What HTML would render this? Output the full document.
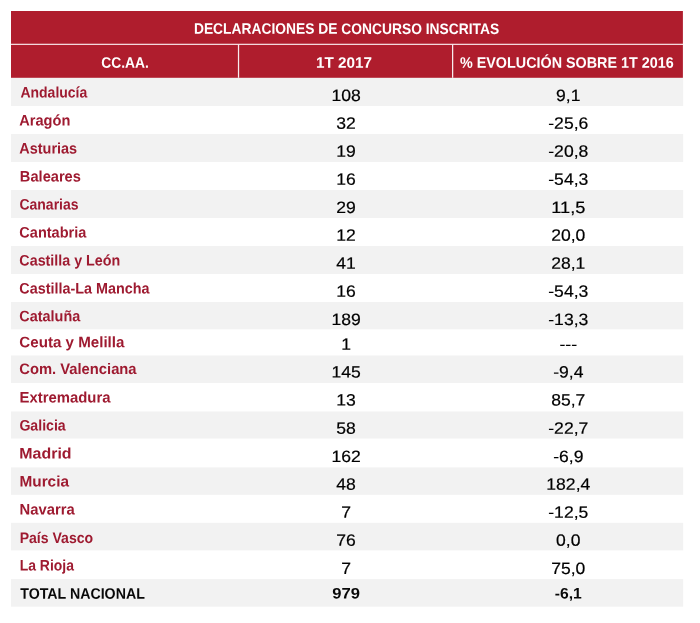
<!DOCTYPE html>
<html lang="es">
<head>
<meta charset="utf-8">
<title>Declaraciones de concurso inscritas</title>
<style>
html,body{margin:0;padding:0;background:#ffffff;}
body{width:700px;height:623px;overflow:hidden;}
svg{display:block;font-family:"Liberation Sans",sans-serif;text-rendering:geometricPrecision;}
text{white-space:pre;}
</style>
</head>
<body>
<svg width="700" height="623" viewBox="0 0 700 623">
<rect x="0" y="0" width="700" height="623" fill="#ffffff"/>
<rect x="11.0" y="11" width="671.9" height="66.8" fill="#AF1D2D"/>
<rect x="11.0" y="43.75" width="672.2" height="1.15" fill="#FBEEF0"/>
<rect x="237.9" y="44.3" width="1.25" height="33.5" fill="#F8ECEE"/>
<rect x="452.0" y="44.3" width="1.25" height="33.5" fill="#F8ECEE"/>
<rect x="11.0" y="78" width="672.2" height="28.0" fill="#F2F2F2"/>
<rect x="11.0" y="134" width="672.2" height="28.0" fill="#F2F2F2"/>
<rect x="11.0" y="190" width="672.2" height="28.0" fill="#F2F2F2"/>
<rect x="11.0" y="246" width="672.2" height="28.0" fill="#F2F2F2"/>
<rect x="11.0" y="302" width="672.2" height="27.3" fill="#F2F2F2"/>
<rect x="11.0" y="355.5" width="672.2" height="27.5" fill="#F2F2F2"/>
<rect x="11.0" y="411.5" width="672.2" height="27.0" fill="#F2F2F2"/>
<rect x="11.0" y="467.4" width="672.2" height="27.4" fill="#F2F2F2"/>
<rect x="11.0" y="522.8" width="672.2" height="27.6" fill="#F2F2F2"/>
<rect x="11.0" y="579.1" width="672.2" height="27.6" fill="#F2F2F2"/>
<text transform="matrix(0.9096 0.0005 0 1 193.93 33.80)" font-size="15.2" font-weight="bold" fill="#ffffff">DECLARACIONES DE CONCURSO INSCRITAS</text>
<text transform="matrix(0.9124 0.0005 0 1 101.14 67.70)" font-size="15.2" font-weight="bold" fill="#ffffff">CC.AA.</text>
<text transform="matrix(1.0051 0.0005 0 1 315.98 67.70)" font-size="15.2" font-weight="bold" fill="#ffffff">1T 2017</text>
<text transform="matrix(0.9448 0.0005 0 1 459.98 67.70)" font-size="15.2" font-weight="bold" fill="#ffffff">% EVOLUCIÓN SOBRE 1T 2016</text>
<text transform="matrix(0.9207 0.0005 0 1 20.43 97.50)" font-size="15.2" font-weight="bold" fill="#9E1A30">Andalucía</text>
<text transform="matrix(0.9608 0.0005 0 1 19.28 125.50)" font-size="15.2" font-weight="bold" fill="#9E1A30">Aragón</text>
<text transform="matrix(0.9521 0.0005 0 1 19.26 153.50)" font-size="15.2" font-weight="bold" fill="#9E1A30">Asturias</text>
<text transform="matrix(0.9639 0.0005 0 1 19.85 181.50)" font-size="15.2" font-weight="bold" fill="#9E1A30">Baleares</text>
<text transform="matrix(0.9219 0.0005 0 1 19.40 209.50)" font-size="15.2" font-weight="bold" fill="#9E1A30">Canarias</text>
<text transform="matrix(0.9563 0.0005 0 1 19.33 237.50)" font-size="15.2" font-weight="bold" fill="#9E1A30">Cantabria</text>
<text transform="matrix(0.9413 0.0005 0 1 19.37 265.50)" font-size="15.2" font-weight="bold" fill="#9E1A30">Castilla y León</text>
<text transform="matrix(0.9466 0.0005 0 1 19.36 293.40)" font-size="15.2" font-weight="bold" fill="#9E1A30">Castilla-La Mancha</text>
<text transform="matrix(0.9509 0.0005 0 1 19.30 321.20)" font-size="15.2" font-weight="bold" fill="#9E1A30">Cataluña</text>
<text transform="matrix(0.9965 0.0005 0 1 19.31 347.25)" font-size="15.2" font-weight="bold" fill="#9E1A30">Ceuta y Melilla</text>
<text transform="matrix(0.9713 0.0005 0 1 19.31 374.00)" font-size="15.2" font-weight="bold" fill="#9E1A30">Com. Valenciana</text>
<text transform="matrix(0.9792 0.0005 0 1 19.54 402.40)" font-size="15.2" font-weight="bold" fill="#9E1A30">Extremadura</text>
<text transform="matrix(0.9295 0.0005 0 1 19.38 430.50)" font-size="15.2" font-weight="bold" fill="#9E1A30">Galicia</text>
<text transform="matrix(1.0479 0.0005 0 1 19.36 458.50)" font-size="15.2" font-weight="bold" fill="#9E1A30">Madrid</text>
<text transform="matrix(1.0106 0.0005 0 1 19.47 486.50)" font-size="15.2" font-weight="bold" fill="#9E1A30">Murcia</text>
<text transform="matrix(0.9737 0.0005 0 1 19.54 514.50)" font-size="15.2" font-weight="bold" fill="#9E1A30">Navarra</text>
<text transform="matrix(0.9257 0.0005 0 1 19.64 542.90)" font-size="15.2" font-weight="bold" fill="#9E1A30">País Vasco</text>
<text transform="matrix(0.9188 0.0005 0 1 19.66 570.50)" font-size="15.2" font-weight="bold" fill="#9E1A30">La Rioja</text>
<text transform="matrix(0.9344 0.0005 0 1 20.24 598.70)" font-size="15.2" font-weight="bold" fill="#080808">TOTAL NACIONAL</text>
<text transform="matrix(1.0660 0.0005 0 1 331.43 101.00)" font-size="16.5" fill="#000000" stroke="#000000" stroke-width="0.2">108</text>
<text transform="matrix(1.0629 0.0005 0 1 556.11 101.00)" font-size="16.5" fill="#000000" stroke="#000000" stroke-width="0.2">9,1</text>
<text transform="matrix(1.0657 0.0005 0 1 336.32 128.80)" font-size="16.5" fill="#000000" stroke="#000000" stroke-width="0.2">32</text>
<text transform="matrix(1.0655 0.0005 0 1 548.26 128.80)" font-size="16.5" fill="#000000" stroke="#000000" stroke-width="0.2">-25,6</text>
<text transform="matrix(1.0657 0.0005 0 1 336.32 156.80)" font-size="16.5" fill="#000000" stroke="#000000" stroke-width="0.2">19</text>
<text transform="matrix(1.0655 0.0005 0 1 548.26 156.80)" font-size="16.5" fill="#000000" stroke="#000000" stroke-width="0.2">-20,8</text>
<text transform="matrix(1.0657 0.0005 0 1 336.32 184.80)" font-size="16.5" fill="#000000" stroke="#000000" stroke-width="0.2">16</text>
<text transform="matrix(1.0655 0.0005 0 1 548.26 184.80)" font-size="16.5" fill="#000000" stroke="#000000" stroke-width="0.2">-54,3</text>
<text transform="matrix(1.0657 0.0005 0 1 336.32 213.00)" font-size="16.5" fill="#000000" stroke="#000000" stroke-width="0.2">29</text>
<text transform="matrix(1.1060 0.0005 0 1 551.22 213.00)" font-size="16.5" fill="#000000" stroke="#000000" stroke-width="0.2">11,5</text>
<text transform="matrix(1.0657 0.0005 0 1 336.32 240.80)" font-size="16.5" fill="#000000" stroke="#000000" stroke-width="0.2">12</text>
<text transform="matrix(1.0635 0.0005 0 1 551.22 240.80)" font-size="16.5" fill="#000000" stroke="#000000" stroke-width="0.2">20,0</text>
<text transform="matrix(1.0657 0.0005 0 1 336.32 268.80)" font-size="16.5" fill="#000000" stroke="#000000" stroke-width="0.2">41</text>
<text transform="matrix(1.0635 0.0005 0 1 551.22 268.80)" font-size="16.5" fill="#000000" stroke="#000000" stroke-width="0.2">28,1</text>
<text transform="matrix(1.0657 0.0005 0 1 336.32 296.80)" font-size="16.5" fill="#000000" stroke="#000000" stroke-width="0.2">16</text>
<text transform="matrix(1.0655 0.0005 0 1 548.26 296.80)" font-size="16.5" fill="#000000" stroke="#000000" stroke-width="0.2">-54,3</text>
<text transform="matrix(1.0660 0.0005 0 1 331.43 325.00)" font-size="16.5" fill="#000000" stroke="#000000" stroke-width="0.2">189</text>
<text transform="matrix(1.0655 0.0005 0 1 548.26 325.00)" font-size="16.5" fill="#000000" stroke="#000000" stroke-width="0.2">-13,3</text>
<text transform="matrix(1.0648 0.0005 0 1 341.21 349.70)" font-size="16.5" fill="#000000" stroke="#000000" stroke-width="0.2">1</text>
<text transform="matrix(1.0754 0.0005 0 1 559.44 349.70)" font-size="16.5" fill="#000000" stroke="#000000" stroke-width="0.2">---</text>
<text transform="matrix(1.0660 0.0005 0 1 331.43 377.60)" font-size="16.5" fill="#000000" stroke="#000000" stroke-width="0.2">145</text>
<text transform="matrix(1.0652 0.0005 0 1 553.15 377.60)" font-size="16.5" fill="#000000" stroke="#000000" stroke-width="0.2">-9,4</text>
<text transform="matrix(1.0657 0.0005 0 1 336.32 405.40)" font-size="16.5" fill="#000000" stroke="#000000" stroke-width="0.2">13</text>
<text transform="matrix(1.0635 0.0005 0 1 551.22 405.40)" font-size="16.5" fill="#000000" stroke="#000000" stroke-width="0.2">85,7</text>
<text transform="matrix(1.0657 0.0005 0 1 336.32 433.70)" font-size="16.5" fill="#000000" stroke="#000000" stroke-width="0.2">58</text>
<text transform="matrix(1.0655 0.0005 0 1 548.26 433.70)" font-size="16.5" fill="#000000" stroke="#000000" stroke-width="0.2">-22,7</text>
<text transform="matrix(1.0660 0.0005 0 1 331.43 462.00)" font-size="16.5" fill="#000000" stroke="#000000" stroke-width="0.2">162</text>
<text transform="matrix(1.0652 0.0005 0 1 553.15 462.00)" font-size="16.5" fill="#000000" stroke="#000000" stroke-width="0.2">-6,9</text>
<text transform="matrix(1.0657 0.0005 0 1 336.32 489.80)" font-size="16.5" fill="#000000" stroke="#000000" stroke-width="0.2">48</text>
<text transform="matrix(1.0642 0.0005 0 1 546.33 489.80)" font-size="16.5" fill="#000000" stroke="#000000" stroke-width="0.2">182,4</text>
<text transform="matrix(1.0648 0.0005 0 1 341.21 517.80)" font-size="16.5" fill="#000000" stroke="#000000" stroke-width="0.2">7</text>
<text transform="matrix(1.0655 0.0005 0 1 548.26 517.80)" font-size="16.5" fill="#000000" stroke="#000000" stroke-width="0.2">-12,5</text>
<text transform="matrix(1.0657 0.0005 0 1 336.32 545.80)" font-size="16.5" fill="#000000" stroke="#000000" stroke-width="0.2">76</text>
<text transform="matrix(1.0629 0.0005 0 1 556.11 545.80)" font-size="16.5" fill="#000000" stroke="#000000" stroke-width="0.2">0,0</text>
<text transform="matrix(1.0648 0.0005 0 1 341.21 573.90)" font-size="16.5" fill="#000000" stroke="#000000" stroke-width="0.2">7</text>
<text transform="matrix(1.0635 0.0005 0 1 551.22 573.90)" font-size="16.5" fill="#000000" stroke="#000000" stroke-width="0.2">75,0</text>
<text transform="matrix(1.0928 0.0005 0 1 332.25 598.50)" font-size="15.2" font-weight="bold" fill="#080808">979</text>
<text transform="matrix(1.0335 0.0005 0 1 554.78 598.50)" font-size="15.2" font-weight="bold" fill="#080808">-6,1</text>
</svg>
</body>
</html>
